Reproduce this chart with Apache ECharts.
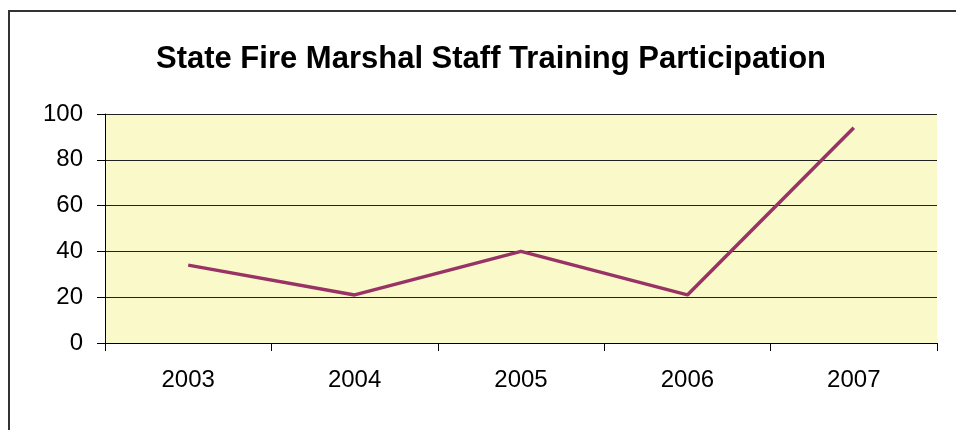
<!DOCTYPE html>
<html>
<head>
<meta charset="utf-8">
<script src="https://cdn.jsdelivr.net/npm/echarts@6/dist/echarts.min.js"></script>
<style>
    html, body { margin: 0; padding: 0; background: #fff; }
    #js-line { width: 956px; height: 430px; }
</style>
</head>
<body>
<div id="js-line"></div>
<script>
const years = ['2003', '2004', '2005', '2006', '2007'];
const participation = [34, 21, 40, 21, 94];
const yTicks = [0, 20, 40, 60, 80, 100];

const lineChart = echarts.init(document.getElementById('js-line'));
const lineOption = {
    animation: false,
    title: {
        text: 'State Fire Marshal Staff Training Participation',
        left: 486,
        top: 39,
        textAlign: 'center',
        textStyle: {
            fontFamily: 'Liberation Sans, Arial',
            fontSize: 31,
            fontWeight: 'bold',
            color: '#000'
        }
    },
    // outer chart frame, only left/top edges show
    graphic: [{
        type: 'rect',
        shape: {x: 9, y: 11, width: 1200, height: 800},
        style: {fill: 'none', stroke: '#333', lineWidth: 2},
        silent: true
    }],
    grid: {
        left: 105,
        right: 19,
        top: 114,
        bottom: 87,
        show: true,
        backgroundColor: '#f9f9c9',
        borderWidth: 0
    },
    xAxis: {
        type: 'category',
        data: years,
        boundaryGap: true,
        axisLine: {lineStyle: {color: '#000', width: 1}},
        axisTick: {show: true, length: 8, lineStyle: {color: '#000'}},
        axisLabel: {
            margin: 25,
            fontFamily: 'Liberation Sans, Arial',
            fontSize: 24,
            color: '#000'
        },
        splitLine: {show: false}
    },
    yAxis: {
        type: 'value',
        min: yTicks[0],
        max: yTicks[yTicks.length - 1],
        interval: 20,
        axisLine: {show: true, lineStyle: {color: '#000', width: 1}},
        axisTick: {show: true, length: 8, lineStyle: {color: '#000'}},
        axisLabel: {
            margin: 22,
            fontFamily: 'Liberation Sans, Arial',
            fontSize: 24,
            color: '#000'
        },
        splitLine: {lineStyle: {color: '#222', width: 1}}
    },
    series: [{
        name: 'Participation',
        type: 'line',
        data: participation,
        symbol: 'none',
        lineStyle: {color: '#993366', width: 3.5},
        itemStyle: {color: '#993366'}
    }]
};
lineChart.setOption(lineOption);
</script>
</body>
</html>
